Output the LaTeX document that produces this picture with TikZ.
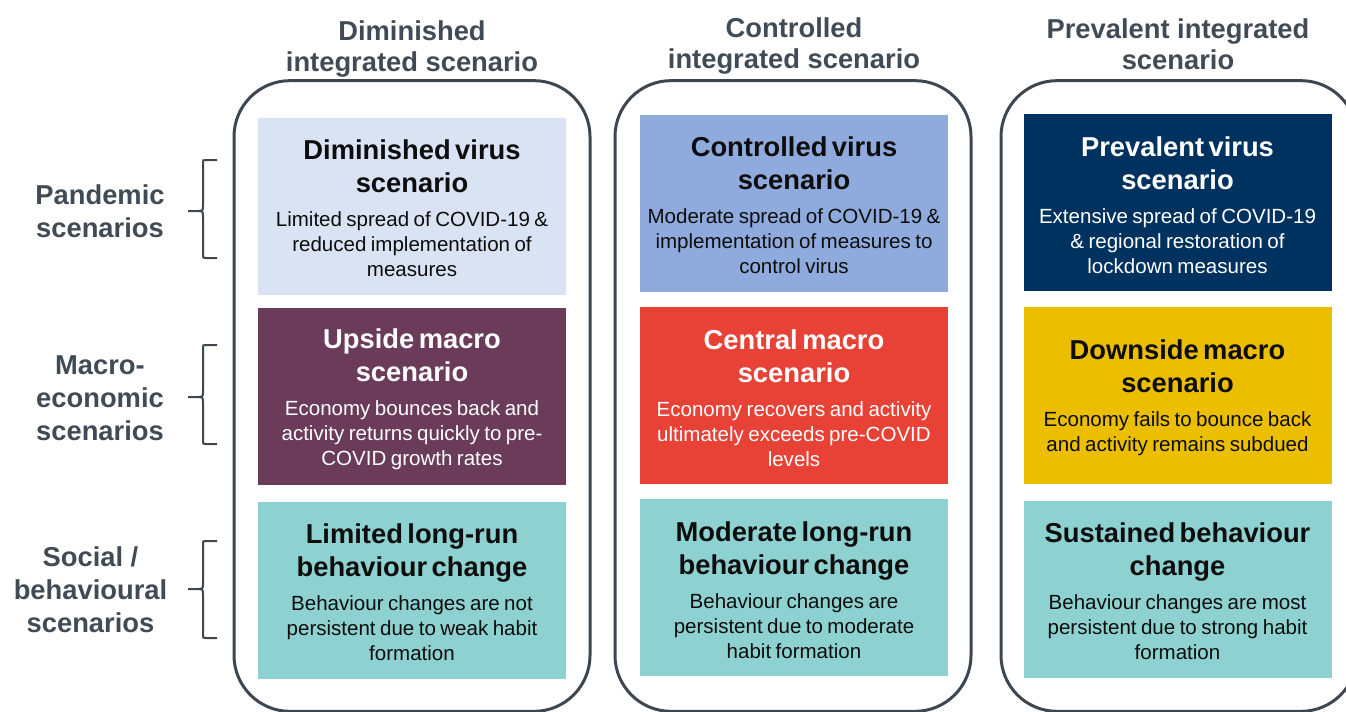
\documentclass[tikz,border=0pt]{standalone}
\usepackage{fontspec}
\setmainfont{Liberation Sans}

\definecolor{outline}{HTML}{3E4650}
\definecolor{headgray}{HTML}{404B55}
\definecolor{dimblue}{HTML}{DAE3F3}
\definecolor{ctrlblue}{HTML}{8FAADC}
\definecolor{prevnavy}{HTML}{00325F}
\definecolor{upplum}{HTML}{6B3B5A}
\definecolor{centred}{HTML}{E84236}
\definecolor{downyellow}{HTML}{EBBE00}
\definecolor{behteal}{HTML}{8DD1D1}

\newcommand\titlefont{\fontsize{20.5}{24.75}\selectfont\bfseries}
\newcommand\bodyfont{\fontsize{15.4}{18.75}\selectfont}
\newcommand\scentext[2]{{\titlefont\rule{0pt}{18.5pt}#1\par}\vskip6.5pt{\bodyfont #2\par}}

\tikzset{
  scenbox/.style={fill=#1, text width=231pt, minimum height=132.75pt, inner sep=0pt, align=center, text=black!95},
  intbox/.style={draw=outline, line width=2.25pt, rounded corners=42pt, minimum width=267pt, minimum height=473pt, inner sep=0pt},
  colhead/.style={text=headgray, font=\fontsize{20.5}{23.25}\selectfont\bfseries, align=center},
  rowlabel/.style={text=headgray, font=\fontsize{20.5}{24.75}\selectfont\bfseries, align=center},
  bracket/.style={draw=outline, line width=1.5pt},
}

\begin{document}
\begin{tikzpicture}[x=0.75pt,y=-0.75pt]
	\useasboundingbox (0,0) rectangle (1346,711);
	\clip (0,0) rectangle (1346,711);

	% integrated scenarios (outer frames)
	\node[intbox] (int1) at (412,396) {};
	\node[intbox] (int2) at (793,396) {};
	\node[intbox] (int3) at (1179,396) {};

	\node[colhead] (head1) at (412,49) {Diminished\\integrated scenario};
	\node[colhead] (head2) at (794,46) {Controlled\\integrated scenario};
	\node[colhead] (head3) at (1178,44) {Prevalent integrated\\scenario};

	% row labels and brackets
	\node[rowlabel] (lblpand) at (100,211) {Pandemic\\scenarios};
	\node[rowlabel] (lblmacro) at (100,398) {Macro-\\economic\\scenarios};
	\node[rowlabel] (lblsocial) at (90.5,590) {Social /\\behavioural\\scenarios};

	\foreach \top/\mid/\bot in {160/211/258, 345/397/444, 541/589/638}{
		\draw[bracket] (217,\top) -- (206,\top) .. controls (203,\top) .. (203,\top+3)
			-- (203,\mid-6) .. controls (203,\mid) .. (197,\mid) -- (188,\mid);
		\draw[bracket] (217,\bot) -- (206,\bot) .. controls (203,\bot) .. (203,\bot-3)
			-- (203,\mid+6) .. controls (203,\mid) .. (197,\mid);
	}

	% diminished column
	\node[scenbox=dimblue] (dimvirus) at (412,206) {\scentext{Diminished virus\\scenario}{Limited spread of COVID-19 \&\\reduced implementation of\\measures}};
	\node[scenbox=upplum, text=white] (upmacro) at (412,396.5) {\scentext{Upside macro\\scenario}{Economy bounces back and\\activity returns quickly to pre-\\COVID growth rates}};
	\node[scenbox=behteal] (limbeh) at (412,590) {\scentext{Limited long-run\\behaviour change}{Behaviour changes are not\\persistent due to weak habit\\formation}};

	% controlled column
	\node[scenbox=ctrlblue] (ctrlvirus) at (794,203) {\scentext{Controlled virus\\scenario}{Moderate spread of COVID-19 \&\\implementation of measures to\\control virus}};
	\node[scenbox=centred, text=white] (centmacro) at (794,395.5) {\scentext{Central macro\\scenario}{Economy recovers and activity\\ultimately exceeds pre-COVID\\levels}};
	\node[scenbox=behteal] (modbeh) at (794,587.5) {\scentext{Moderate long-run\\behaviour change}{Behaviour changes are\\persistent due to moderate\\habit formation}};

	% prevalent column
	\node[scenbox=prevnavy, text=white] (prevvirus) at (1177.5,202.5) {\scentext{Prevalent virus\\scenario}{Extensive spread of COVID-19\\\& regional restoration of\\lockdown measures}};
	\node[scenbox=downyellow] (downmacro) at (1177.5,395.5) {\scentext{Downside macro\\scenario}{Economy fails to bounce back\\and activity remains subdued}};
	\node[scenbox=behteal] (susbeh) at (1177.5,589) {\scentext{Sustained behaviour\\change}{Behaviour changes are most\\persistent due to strong habit\\formation}};
\end{tikzpicture}
\end{document}
